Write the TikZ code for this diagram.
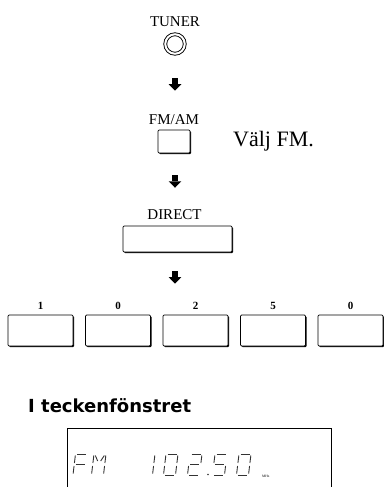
\documentclass[tikz,border=0pt]{standalone}
\usepackage{fontspec}
\setmainfont{Liberation Serif}
\newfontfamily\headfont{DejaVu Sans}
\usetikzlibrary{positioning,calc,shadows}

% size of one display cell
\def\lw{12}
\def\lh{21}

\tikzset{
  lcd/.style={line width=0.9pt, draw=black!80},
  seg a/.style={insert path={(1.5,0) -- (\lw-1.5,0)}},
  seg b/.style={insert path={(\lw,1.5) -- (\lw,\lh/2-1.5)}},
  seg c/.style={insert path={(\lw,\lh/2+1.5) -- (\lw,\lh-1.5)}},
  seg d/.style={insert path={(1.5,\lh) -- (\lw-1.5,\lh)}},
  seg e/.style={insert path={(0,\lh/2+1.5) -- (0,\lh-1.5)}},
  seg f/.style={insert path={(0,1.5) -- (0,\lh/2-1.5)}},
  seg g/.style={insert path={(1.5,\lh/2) -- (\lw-1.5,\lh/2)}},
  seg h/.style={insert path={(1.5,1.5) -- (4.5,7)}},
  seg i/.style={insert path={(\lw-1.5,1.5) -- (\lw-4.5,7)}},
  downarr/.pic={
    \fill (-2.8,-6.5) rectangle (2.8,0);
    \fill (-6.3,0) -- (6.3,0) -- (0,6.5) -- cycle;
  }
}

\newcommand{\lcdchar}[3]{%
  \begin{scope}[shift={(#1,#2)}, xslant=0.12]
    \foreach \s in {#3} {\draw[lcd, seg \s];}
  \end{scope}}

\begin{document}
\begin{tikzpicture}[
    x=1pt, y=-1pt,
    caption/.style={inner sep=0pt, font=\fontsize{15}{15}\selectfont},
    keylabel/.style={inner sep=0pt, font=\bfseries\fontsize{11}{11}\selectfont},
    knob/.style={circle, draw, double, double distance=2pt, line width=0.9pt, minimum size=19.5pt, inner sep=0pt},
    button/.style={draw, fill=white, line width=0.7pt, rounded corners=1.2pt, inner sep=0pt,
      general shadow={fill=black, shadow xshift=1.1pt, shadow yshift=-1.1pt}},
    key/.style={button, minimum width=65pt, minimum height=31pt}
]
\useasboundingbox (0,0) rectangle (383,487);

% TUNER knob
\node[knob] (tuner) at (175,44) {};
\node[caption, above=7pt of tuner] (tunerlab) {TUNER};

% FM/AM button
\node[button, minimum width=32pt, minimum height=23pt] (fmam) at (174,141.5) {};
\node[caption, above=5pt of fmam] (fmamlab) {FM/AM};
\node[anchor=base west, inner sep=0pt, font=\fontsize{22}{22}\selectfont] (valj) at (233,146) {Välj FM.};

% DIRECT button
\node[button, minimum width=109pt, minimum height=26pt] (direct) at (177.5,239) {};
\node[caption, above=6pt of direct, xshift=-3pt] (directlab) {DIRECT};

% number keys
\foreach \d [count=\i] in {1,0,2,5,0} {
  \node[key] (k\i) at ({40.5+77.5*(\i-1)},330.5) {};
  \node[keylabel, above=5pt of k\i] (l\i) {\d};
}

% arrows between the steps
\coordinate (m1) at ($(tuner.south)!0.5!(fmamlab.north)$);
\coordinate (m2) at ($(fmam.south)!0.5!(directlab.north)$);
\coordinate (m3) at ($(direct.south)!0.5!(l3.north)$);
\foreach \m in {m1,m2,m3} \pic at (tuner |- \m) {downarr};

% display window
\node[anchor=base west, inner sep=0pt, font=\headfont\bfseries\fontsize{18}{18}\selectfont] (heading) at (28,412) {I teckenfönstret};
\node[anchor=north west, minimum width=264pt, minimum height=65pt, inner sep=0pt] (disp) at (67,428) {};
\draw[line width=0.7pt] (disp.south west) |- (disp.north east) -- (disp.south east);

\lcdchar{75.5}{454}{a,f,e,g}
\lcdchar{94}{454}{f,e,b,c,h,i}
\lcdchar{143}{454}{b,c}
\lcdchar{166}{454}{a,b,c,d,e,f}
\lcdchar{190}{454}{a,b,g,e,d}
\fill[black!80] (208,474.5) circle (0.8);
\lcdchar{215}{454}{a,f,g,c,d}
\lcdchar{239}{454}{a,b,c,d,e,f}
\node[anchor=base west, inner sep=0pt, font=\fontsize{3.5}{3.5}\selectfont] (unit) at (262,477) {MHz};

\end{tikzpicture}
\end{document}
